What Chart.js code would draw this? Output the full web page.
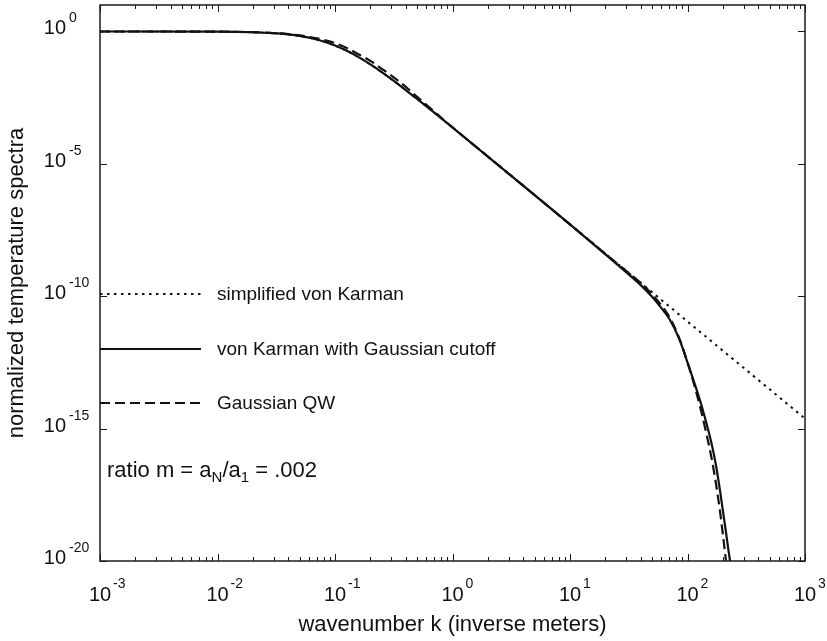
<!DOCTYPE html>
<html>
<head>
<meta charset="utf-8">
<script src="https://cdn.jsdelivr.net/npm/chart.js@4.4.0/dist/chart.umd.min.js"></script>
<style>
  body { margin: 0; background: #fff; }
</style>
</head>
<body>
<canvas id="myChart" width="827" height="641"></canvas>
<script>
// wavenumber k (inverse meters)
var wavenumbers = [0.001, 0.01, 0.02, 0.03, 0.04, 0.05, 0.07, 0.1, 0.13, 0.16, 0.2, 0.25, 0.3, 0.4, 0.5, 0.7,
    1, 2, 5, 10, 20, 30, 40, 50, 60, 70, 85, 100, 115, 130, 145, 160, 175, 190, 200, 210, 220, 230, 240,
    300, 500, 1000];

var simplifiedVK = [1.0, 0.983, 0.934, 0.861, 0.773, 0.678, 0.498, 0.296, 0.1743, 0.1054, 0.0571, 0.02904, 0.0162, 6.14e-3, 2.82e-3, 8.54e-4,
    2.36e-4, 1.89e-5, 6.57e-7, 5.17e-8, 4.07e-9, 9.21e-10, 3.21e-10, 1.42e-10, 7.26e-11, 4.12e-11, 2.02e-11, 1.11e-11, 6.68e-12, 4.26e-12, 2.86e-12, 1.99e-12, 1.43e-12, 1.06e-12, 8.79e-13, 7.35e-13, 6.19e-13, 5.26e-13, 4.50e-13,
    1.99e-13, 3.05e-14, 2.40e-15];

var vkGaussCutoff = [1.0, 0.983, 0.934, 0.861, 0.773, 0.678, 0.498, 0.296, 0.1743, 0.1054, 0.0571, 0.02904, 0.0162, 6.14e-3, 2.82e-3, 8.54e-4,
    2.36e-4, 1.89e-5, 6.57e-7, 5.17e-8, 3.80e-9, 8.13e-10, 2.63e-10, 9.5e-11, 3.55e-11, 1.41e-11, 2.45e-12, 3.16e-13, 5.01e-14, 9.12e-15, 1.58e-15, 2.82e-16, 3.98e-17, 3.98e-18, 7.94e-19, 1.78e-19, 3.98e-20, 1.0e-20, 2.0e-21,
    null, null, null];

var gaussianQW = [1.0, 0.985, 0.94, 0.87, 0.794, 0.708, 0.550, 0.363, 0.221, 0.135, 0.0776, 0.0389, 0.0219, 8.13e-3, 3.39e-3, 9.33e-4,
    2.40e-4, 1.89e-5, 6.57e-7, 5.17e-8, 3.98e-9, 9.12e-10, 3.16e-10, 1.17e-10, 4.47e-11, 1.66e-11, 2.63e-12, 3.16e-13, 3.98e-14, 5.01e-15, 6.31e-16, 7.94e-17, 7.94e-18, 6.31e-19, 1.0e-19, 1.58e-20, 2.51e-21, null, null,
    null, null, null];

var seriesNames = ['simplified von Karman', 'von Karman with Gaussian cutoff', 'Gaussian QW'];
var xTickExps = [-3, -2, -1, 0, 1, 2, 3];
var yTickExps = [0, -5, -10, -15, -20];

var fontFamily = '"Liberation Sans", Arial, Helvetica, sans-serif';
var ink = '#111';

function toPoints(ys) {
    var pts = [];
    for (var i = 0; i < wavenumbers.length; i++) {
        pts.push({ x: wavenumbers[i], y: ys[i] });
    }
    return pts;
}

// frame, inward ticks, 10^n labels, titles, legend and note
var framePlugin = {
    id: 'frame',
    afterDatasetsDraw: function (chart) {
        var ctx = chart.ctx;
        var area = chart.chartArea;
        var xAxis = chart.scales.x;
        var yAxis = chart.scales.y;
        ctx.save();

        ctx.strokeStyle = '#1a1a1a';
        ctx.lineWidth = 1.5;
        ctx.strokeRect(area.left, area.top, area.right - area.left, area.bottom - area.top);

        ctx.lineWidth = 1;
        ctx.beginPath();
        for (var i = 0; i < xTickExps.length; i++) {
            for (var m = 1; m <= 9; m++) {
                if (i === xTickExps.length - 1 && m > 1) break;
                var px = Math.round(xAxis.getPixelForValue(m * Math.pow(10, xTickExps[i]))) + 0.5;
                var len = m === 1 ? 7 : 4;
                ctx.moveTo(px, area.bottom);
                ctx.lineTo(px, area.bottom - len);
                ctx.moveTo(px, area.top);
                ctx.lineTo(px, area.top + len);
            }
        }
        for (var j = 0; j < yTickExps.length; j++) {
            var py = Math.round(yAxis.getPixelForValue(Math.pow(10, yTickExps[j]))) + 0.5;
            ctx.moveTo(area.left, py);
            ctx.lineTo(area.left + 7, py);
            ctx.moveTo(area.right, py);
            ctx.lineTo(area.right - 7, py);
        }
        ctx.stroke();

        ctx.fillStyle = ink;
        ctx.textBaseline = 'alphabetic';

        // x tick labels
        xTickExps.forEach(function (e) {
            var px = xAxis.getPixelForValue(Math.pow(10, e));
            ctx.font = '20px ' + fontFamily;
            ctx.textAlign = 'center';
            ctx.fillText('10', px, area.bottom + 40);
            var w = ctx.measureText('10').width;
            ctx.font = '14px ' + fontFamily;
            ctx.textAlign = 'left';
            ctx.fillText(String(e), px + w / 2 + 2, area.bottom + 27);
        });

        // y tick labels
        yTickExps.forEach(function (e) {
            var py = yAxis.getPixelForValue(Math.pow(10, e));
            ctx.font = '20px ' + fontFamily;
            ctx.textAlign = 'right';
            ctx.fillText('10', area.left - 34, py + 3);
            ctx.font = '14px ' + fontFamily;
            ctx.textAlign = 'left';
            ctx.fillText(String(e), area.left - 31, py - 9);
        });

        // axis titles
        ctx.font = '22px ' + fontFamily;
        ctx.textAlign = 'center';
        ctx.fillText('wavenumber k (inverse meters)', (area.left + area.right) / 2, area.bottom + 70);
        ctx.save();
        ctx.translate(17, (area.top + area.bottom) / 2);
        ctx.rotate(-Math.PI / 2);
        ctx.textBaseline = 'middle';
        ctx.fillText('normalized temperature spectra', 0, 0);
        ctx.restore();

        // legend inside the plot
        var legendY = [294, 349, 403];
        chart.data.datasets.forEach(function (ds, k) {
            ctx.save();
            ctx.strokeStyle = ds.borderColor;
            ctx.lineWidth = ds.borderWidth;
            ctx.setLineDash(ds.borderDash || []);
            ctx.beginPath();
            ctx.moveTo(area.left, legendY[k]);
            ctx.lineTo(area.left + 101, legendY[k]);
            ctx.stroke();
            ctx.restore();
            ctx.font = '19px ' + fontFamily;
            ctx.textAlign = 'left';
            ctx.textBaseline = 'middle';
            ctx.fillText(ds.label, area.left + 117, legendY[k] + 1);
        });

        // ratio note with subscripts
        var nx = area.left + 7, ny = 477;
        var parts = [['ratio m = a', 22, 0], ['N', 15, 5], ['/a', 22, 0], ['1', 15, 5], [' = .002', 22, 0]];
        ctx.textAlign = 'left';
        ctx.textBaseline = 'alphabetic';
        parts.forEach(function (p) {
            ctx.font = p[1] + 'px ' + fontFamily;
            ctx.fillText(p[0], nx, ny + p[2]);
            nx += ctx.measureText(p[0]).width;
        });

        ctx.restore();
    }
};

var ctx = document.getElementById('myChart').getContext('2d');
var myChart = new Chart(ctx, {
    type: 'line',
    data: {
        datasets: [{
            label: seriesNames[0],
            data: toPoints(simplifiedVK),
            borderColor: ink,
            borderWidth: 2,
            borderDash: [2.5, 4.5],
            pointRadius: 0,
            cubicInterpolationMode: 'monotone'
        },
        {
            label: seriesNames[1],
            data: toPoints(vkGaussCutoff),
            borderColor: ink,
            borderWidth: 2.2,
            pointRadius: 0,
            cubicInterpolationMode: 'monotone'
        },
        {
            label: seriesNames[2],
            data: toPoints(gaussianQW),
            borderColor: ink,
            borderWidth: 2.2,
            borderDash: [10, 5],
            pointRadius: 0,
            cubicInterpolationMode: 'monotone'
        }]
    },
    options: {
        responsive: false,
        animation: false,
        devicePixelRatio: 1,
        layout: { padding: { left: 100, right: 22, top: 5, bottom: 80 } },
        plugins: {
            legend: { display: false },
            tooltip: { enabled: false }
        },
        scales: {
            x: { type: 'logarithmic', min: 1e-3, max: 1e3, display: false },
            y: { type: 'logarithmic', min: 1e-20, max: 1e1, display: false }
        }
    },
    plugins: [framePlugin]
});
</script>
</body>
</html>
